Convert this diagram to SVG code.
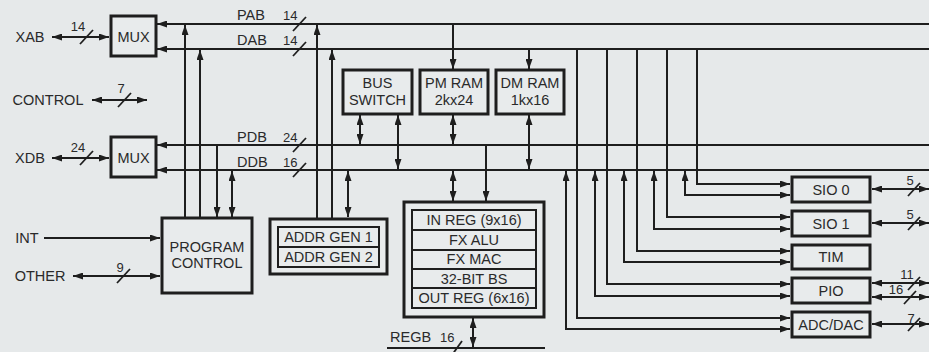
<svg xmlns="http://www.w3.org/2000/svg" width="929" height="352" viewBox="0 0 929 352">
<defs>
<marker id="ah" viewBox="0 0 10 7" markerUnits="userSpaceOnUse" markerWidth="10" markerHeight="7" refX="10" refY="3.5" orient="auto-start-reverse">
<path d="M0,0 L10,3.5 L0,7 z" fill="#1e1e1e"/>
</marker>
</defs>
<style>
.bg{fill:#e6e9ea}
.box{fill:#e8ebec;stroke:#1e1e1e;stroke-width:3}
.inner{fill:#e8ebec;stroke:#1e1e1e;stroke-width:2}
.ln{fill:none;stroke:#1e1e1e;stroke-width:2}
.a1{marker-end:url(#ah)}
.a2{marker-start:url(#ah);marker-end:url(#ah)}
.sl{stroke:#1e1e1e;stroke-width:1.8}
text{font-family:"Liberation Sans",Arial,sans-serif;font-size:14.5px;fill:#2a2a2a}
.c{text-anchor:middle}
.s{font-size:13px}
</style>
<rect class="bg" x="0" y="0" width="929" height="352"/>

<g id="connectors">
<path class="ln a1" d="M929,24 H157"/>
<path class="ln a1" d="M929,49 H157"/>
<path class="ln a1" d="M929,145 H157"/>
<path class="ln a1" d="M929,170 H157"/>
<path class="ln a2" d="M52,37 H109"/>
<path class="ln a2" d="M92,100 H147"/>
<path class="ln a2" d="M52,158 H109"/>
<path class="ln a1" d="M44,238 H160"/>
<path class="ln a2" d="M73,276 H160"/>
<path class="ln a1" d="M185,218 V25"/>
<path class="ln a1" d="M200,218 V50"/>
<path class="ln a1" d="M217,145 V217"/>
<path class="ln a2" d="M232,171 V217"/>
<path class="ln a1" d="M317,218 V25"/>
<path class="ln a1" d="M332,218 V50"/>
<path class="ln a2" d="M348,171 V217"/>
<path class="ln a2" d="M360,115 V144"/>
<path class="ln a2" d="M398,115 V169"/>
<path class="ln a1" d="M453,24 V69"/>
<path class="ln a2" d="M453,115 V144"/>
<path class="ln a1" d="M529,49 V69"/>
<path class="ln a2" d="M529,115 V169"/>
<path class="ln a2" d="M453,171 V201"/>
<path class="ln a1" d="M486,145 V201"/>
<path class="ln a2" d="M473,318 V347"/>
<path class="ln" d="M387,348 H545"/>
<path class="ln a1" d="M577,49 V318 H790"/>
<path class="ln a2" d="M566,171 V329 H790"/>
<path class="ln a1" d="M607,49 V284 H790"/>
<path class="ln a2" d="M595,171 V296 H790"/>
<path class="ln a1" d="M637,49 V251 H790"/>
<path class="ln a2" d="M624,171 V262 H790"/>
<path class="ln a1" d="M667,49 V217 H790"/>
<path class="ln a2" d="M654,171 V229 H790"/>
<path class="ln a1" d="M697,49 V184 H790"/>
<path class="ln a2" d="M685,171 V195 H790"/>
<path class="ln a2" d="M872,189 H929"/>
<path class="ln a2" d="M872,223 H929"/>
<path class="ln a2" d="M872,283 H929"/>
<path class="ln a2" d="M872,297 H929"/>
<path class="ln a2" d="M872,324 H929"/>
<line class="sl" x1="80" y1="44" x2="93" y2="30"/>
<line class="sl" x1="118" y1="107" x2="131" y2="93"/>
<line class="sl" x1="80" y1="165" x2="93" y2="151"/>
<line class="sl" x1="117" y1="283" x2="130" y2="269"/>
<line class="sl" x1="293" y1="31" x2="306" y2="17"/>
<line class="sl" x1="293" y1="56" x2="306" y2="42"/>
<line class="sl" x1="293" y1="152" x2="306" y2="138"/>
<line class="sl" x1="293" y1="177" x2="306" y2="163"/>
<line class="sl" x1="452" y1="355" x2="462" y2="341"/>
<line class="sl" x1="908" y1="196" x2="920" y2="183"/>
<line class="sl" x1="908" y1="230" x2="920" y2="217"/>
<line class="sl" x1="908" y1="290" x2="920" y2="277"/>
<line class="sl" x1="904" y1="304" x2="916" y2="291"/>
<line class="sl" x1="908" y1="331" x2="920" y2="318"/>
</g>

<g id="labels">
<text class="c" x="30" y="42">XAB</text>
<text class="c s" x="78" y="31">14</text>
<text class="c" x="48" y="105">CONTROL</text>
<text class="c s" x="121" y="93">7</text>
<text class="c" x="30" y="163">XDB</text>
<text class="c s" x="78" y="152">24</text>
<text class="c" x="27" y="243">INT</text>
<text class="c" x="40" y="281">OTHER</text>
<text class="c s" x="120" y="272">9</text>
<text x="237" y="20">PAB</text><text class="s" x="283" y="20">14</text>
<text x="237" y="45">DAB</text><text class="s" x="283" y="45">14</text>
<text x="237" y="142">PDB</text><text class="s" x="283" y="142">24</text>
<text x="237" y="167">DDB</text><text class="s" x="283" y="167">16</text>
<text x="390" y="342">REGB</text><text class="s" x="440" y="342">16</text>
<text class="c s" x="910" y="185">5</text>
<text class="c s" x="910" y="219">5</text>
<text class="c s" x="907" y="279">11</text>
<text class="c s" x="896" y="294">16</text>
<text class="c s" x="911" y="323">7</text>
</g>

<g id="mux-xab"><rect class="box" x="111" y="16" width="45" height="40"/><text class="c" x="133.5" y="42">MUX</text></g>
<g id="mux-xdb"><rect class="box" x="111" y="137" width="45" height="40"/><text class="c" x="133.5" y="163">MUX</text></g>
<g id="program-control"><rect class="box" x="162" y="218" width="90" height="75"/><text class="c" x="207" y="252">PROGRAM</text><text class="c" x="207" y="268">CONTROL</text></g>
<g id="addr-gen">
<rect class="box" x="270" y="219" width="117" height="55"/>
<rect class="inner" x="278" y="227" width="101" height="20"/>
<rect class="inner" x="278" y="247" width="101" height="20"/>
<text class="c" x="328.5" y="242">ADDR GEN 1</text>
<text class="c" x="328.5" y="262">ADDR GEN 2</text>
</g>
<g id="bus-switch"><rect class="box" x="343" y="70" width="69" height="44"/><text class="c" x="377.5" y="88">BUS</text><text class="c" x="377.5" y="105">SWITCH</text></g>
<g id="pm-ram"><rect class="box" x="420" y="70" width="68" height="44"/><text class="c" x="454" y="88">PM RAM</text><text class="c" x="454" y="105">2kx24</text></g>
<g id="dm-ram"><rect class="box" x="496" y="70" width="68" height="44"/><text class="c" x="530" y="88">DM RAM</text><text class="c" x="530" y="105">1kx16</text></g>
<g id="compute">
<rect class="box" x="404" y="202" width="140" height="115"/>
<rect class="inner" x="412" y="210" width="124" height="20"/>
<rect class="inner" x="412" y="230" width="124" height="20"/>
<rect class="inner" x="412" y="250" width="124" height="19"/>
<rect class="inner" x="412" y="269" width="124" height="19"/>
<rect class="inner" x="412" y="288" width="124" height="20"/>
<text class="c" x="474" y="225">IN REG (9x16)</text>
<text class="c" x="474" y="245">FX ALU</text>
<text class="c" x="474" y="264">FX MAC</text>
<text class="c" x="474" y="284">32-BIT BS</text>
<text class="c" x="474" y="303">OUT REG (6x16)</text>
</g>
<g id="sio0"><rect class="box" x="792" y="177" width="78" height="25"/><text class="c" x="831" y="195">SIO 0</text></g>
<g id="sio1"><rect class="box" x="792" y="211" width="78" height="25"/><text class="c" x="831" y="229">SIO 1</text></g>
<g id="tim"><rect class="box" x="792" y="245" width="78" height="24"/><text class="c" x="831" y="262">TIM</text></g>
<g id="pio"><rect class="box" x="792" y="278" width="78" height="25"/><text class="c" x="831" y="296">PIO</text></g>
<g id="adc-dac"><rect class="box" x="792" y="312" width="78" height="25"/><text class="c" x="831" y="330">ADC/DAC</text></g>
</svg>
